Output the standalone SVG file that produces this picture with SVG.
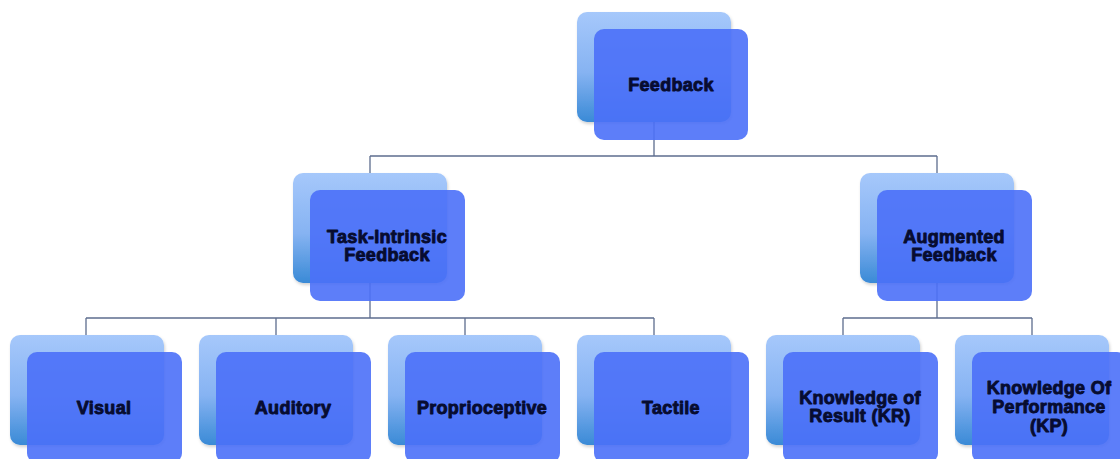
<svg xmlns="http://www.w3.org/2000/svg" width="1120" height="459" viewBox="0 0 1120 459">
  <defs>
    <linearGradient id="backGrad" x1="0" y1="0" x2="0" y2="1">
      <stop offset="0" stop-color="#a6c8fb"/>
      <stop offset="0.55" stop-color="#86b3f2"/>
      <stop offset="1" stop-color="#3a8ad6"/>
    </linearGradient>
    <filter id="shadow" x="-10%" y="-10%" width="130%" height="130%">
      <feDropShadow dx="1" dy="2" stdDeviation="1.5" flood-color="#000" flood-opacity="0.18"/>
    </filter>
  </defs>
  <style>
    .back { fill: url(#backGrad); filter: url(#shadow); }
    .front { fill: #4b70f8; fill-opacity: 0.9; }
    .conn { stroke: #5d6d8e; stroke-width: 1.3; fill: none; }
    .label { font-family: "Liberation Sans", Arial, sans-serif; font-weight: bold; font-size: 18px; fill: #070c30; stroke: #070c30; stroke-width: 0.9; stroke-linejoin: round; letter-spacing: 0.3px; text-anchor: middle; }
  </style>
  <rect width="1120" height="459" fill="#ffffff"/>

  <g id="connectors">
    <path class="conn" d="M654 122 V156 M370 156 H937 M370 156 V173 M937 156 V173"/>
    <path class="conn" d="M370 283 V318 M86 318 H654 M86 318 V335 M276 318 V335 M465 318 V335 M654 318 V335"/>
    <path class="conn" d="M937 283 V318 M843 318 H1032 M843 318 V335 M1032 318 V335"/>
  </g>

  <g id="feedback">
    <rect class="back" x="577" y="12" width="154" height="110" rx="10"/>
    <rect class="front" x="594" y="29" width="154" height="111" rx="10"/>
    <text class="label" x="671" y="91">Feedback</text>
  </g>

  <g id="task-intrinsic">
    <rect class="back" x="293" y="173" width="154" height="110" rx="10"/>
    <rect class="front" x="310" y="190" width="155" height="111" rx="10"/>
    <text class="label" x="387" y="243">Task-Intrinsic</text>
    <text class="label" x="387" y="261">Feedback</text>
  </g>

  <g id="augmented">
    <rect class="back" x="860" y="173" width="154" height="110" rx="10"/>
    <rect class="front" x="877" y="190" width="155" height="111" rx="10"/>
    <text class="label" x="954" y="243">Augmented</text>
    <text class="label" x="954" y="261">Feedback</text>
  </g>

  <g id="visual">
    <rect class="back" x="10" y="335" width="154" height="110" rx="10"/>
    <rect class="front" x="27" y="352" width="155" height="111" rx="10"/>
    <text class="label" x="104" y="414">Visual</text>
  </g>

  <g id="auditory">
    <rect class="back" x="199" y="335" width="154" height="110" rx="10"/>
    <rect class="front" x="216" y="352" width="155" height="111" rx="10"/>
    <text class="label" x="293" y="414">Auditory</text>
  </g>

  <g id="proprioceptive">
    <rect class="back" x="388" y="335" width="154" height="110" rx="10"/>
    <rect class="front" x="405" y="352" width="155" height="111" rx="10"/>
    <text class="label" x="482" y="414">Proprioceptive</text>
  </g>

  <g id="tactile">
    <rect class="back" x="577" y="335" width="154" height="110" rx="10"/>
    <rect class="front" x="594" y="352" width="155" height="111" rx="10"/>
    <text class="label" x="671" y="414">Tactile</text>
  </g>

  <g id="kr">
    <rect class="back" x="766" y="335" width="154" height="110" rx="10"/>
    <rect class="front" x="783" y="352" width="155" height="111" rx="10"/>
    <text class="label" x="860" y="404">Knowledge of</text>
    <text class="label" x="860" y="422">Result (KR)</text>
  </g>

  <g id="kp">
    <rect class="back" x="955" y="335" width="154" height="110" rx="10"/>
    <rect class="front" x="972" y="352" width="155" height="111" rx="10"/>
    <text class="label" x="1049" y="394">Knowledge Of</text>
    <text class="label" x="1049" y="413">Performance</text>
    <text class="label" x="1049" y="432">(KP)</text>
  </g>
</svg>
